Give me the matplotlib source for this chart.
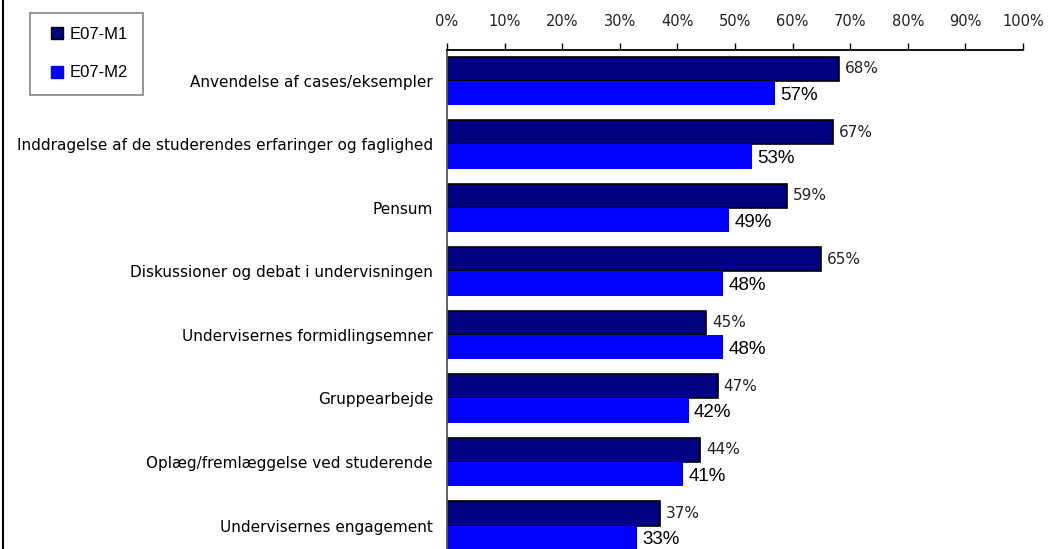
import numpy as np
import matplotlib.pyplot as plt
from matplotlib.lines import Line2D
from matplotlib.ticker import PercentFormatter

categories = ["Anvendelse af cases/eksempler",
              "Inddragelse af de studerendes erfaringer og faglighed",
              "Pensum",
              "Diskussioner og debat i undervisningen",
              "Undervisernes formidlingsemner",
              "Gruppearbejde",
              "Oplæg/fremlæggelse ved studerende",
              "Undervisernes engagement"]
m1 = [68, 67, 59, 65, 45, 47, 44, 37]
m2 = [57, 53, 49, 48, 48, 42, 41, 33]
series_names = ["E07-M1", "E07-M2"]
ticks = list(range(0, 101, 10))

dark = "#000080"
blue = "#0000FF"

fig = plt.figure(figsize=(10.58, 5.49), dpi=100)
ax = fig.add_axes([447 / 1058, 0, 576 / 1058, 1 - 50 / 549])

y = np.arange(len(categories))
h = 0.385
ax.barh(y - h / 2, m1, height=h, color=dark, edgecolor="black", linewidth=1.2)
ax.barh(y + h / 2, m2, height=h, color=blue, linewidth=0)

# value labels: smaller for M1, larger for M2
for yi, v in zip(y, m1):
    ax.text(v + 1.0, yi - h / 2, f"{v}%", va="center", ha="left",
            fontsize=11, color="#222222", family="DejaVu Sans")
for yi, v in zip(y, m2):
    ax.text(v + 0.9, yi + h / 2 + 0.03, f"{v}%", va="center", ha="left",
            fontsize=13.5, color="black", family="Liberation Sans")

ax.set_xlim(0, 100)
ax.set_ylim(7 + 0.37, -0.488)
ax.set_xticks(ticks)
ax.xaxis.set_major_formatter(PercentFormatter(decimals=0))
ax.xaxis.tick_top()
ax.tick_params(axis="x", direction="out", length=5, width=1, pad=10,
               labelsize=10.5, colors="black")
ax.set_yticks(y)
ax.set_yticklabels(categories, fontsize=11)
ax.tick_params(axis="y", length=0, pad=10)
for lbl in ax.get_xticklabels():
    lbl.set_color("#222222")

for s in ("right", "bottom"):
    ax.spines[s].set_visible(False)
ax.spines["top"].set_linewidth(1.3)
ax.spines["left"].set_color("#555555")
ax.spines["left"].set_linewidth(1.3)

handles = [Line2D([], [], marker="s", linestyle="", markersize=9,
                  markerfacecolor=dark, markeredgecolor="black"),
           Line2D([], [], marker="s", linestyle="", markersize=9,
                  markerfacecolor=blue, markeredgecolor=blue)]
leg = fig.legend(handles, series_names, loc="upper left",
                 bbox_to_anchor=(30 / 1058, 1 - 13 / 549),
                 prop={"family": "Liberation Sans", "size": 12},
                 frameon=True, fancybox=False, handletextpad=0.05,
                 handlelength=1.5, labelspacing=1.4, borderpad=0.85,
                 borderaxespad=0, edgecolor="#666666")
leg.get_frame().set_linewidth(1.2)

# frame line along the left edge
fig.add_artist(Line2D([2.5 / 1058, 2.5 / 1058], [0, 1], color="black",
                      linewidth=1.5, transform=fig.transFigure))

fig.savefig("out.png", dpi=100)
